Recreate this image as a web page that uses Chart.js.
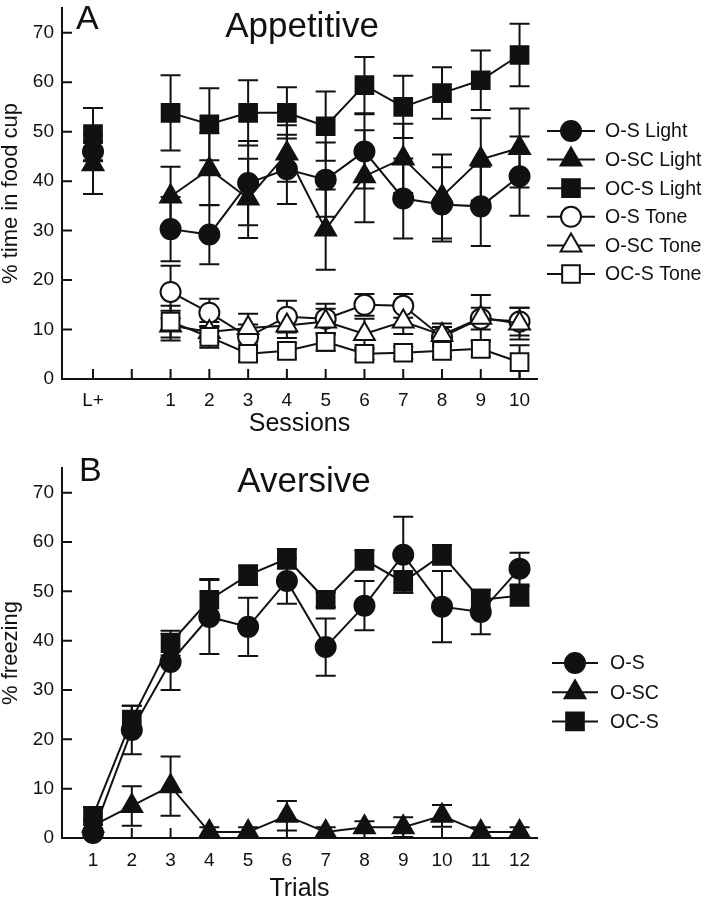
<!DOCTYPE html>
<html>
<head>
<meta charset="utf-8">
<script src="https://cdn.jsdelivr.net/npm/chart.js@4.4.0/dist/chart.umd.min.js"></script>
<style>
html,body{margin:0;padding:0;background:#fff;}
#wrap{width:709px;height:899px;position:relative;overflow:hidden;}
.box{position:absolute;left:0;width:709px;}
</style>
</head>
<body>
<div id="wrap">
  <div class="box" style="top:0;height:450px"><canvas id="cA"></canvas></div>
  <div class="box" style="top:450px;height:449px"><canvas id="cB"></canvas></div>
</div>
<script>
// ---------- Panel A: Appetitive ----------
const sessionCategories = ['L+', '', '1', '2', '3', '4', '5', '6', '7', '8', '9', '10'];
const yTicksA = [0, 10, 20, 30, 40, 50, 60, 70];

const osLight      = [46.0, null, 30.3, 29.2, 39.6, 42.4, 40.3, 46.0, 36.5, 35.3, 34.9, 41.0];
const osLightErr   = [2.0,  null, 6.5,  6.0,  8.5,  7.0,  7.5,  7.5,  8.1,  7.5,  8.0,  8.0];
const oscLight     = [43.4, null, 36.9, 42.4, 36.5, 45.6, 30.2, 41.0, 44.6, 36.9, 44.4, 46.7];
const oscLightErr  = [6.0,  null, 6.0,  7.3,  8.0,  5.7,  8.1,  9.3,  7.0,  8.5,  8.3,  8.0];
const ocsLight     = [49.5, null, 53.8, 51.5, 53.8, 53.8, 51.1, 59.4, 55.0, 57.8, 60.4, 65.5];
const ocsLightErr  = [5.3,  null, 7.6,  7.3,  6.6,  5.2,  7.0,  5.7,  6.3,  5.2,  6.0,  6.3];
const osTone       = [null, null, 17.6, 13.4, 8.5,  12.6, 12.2, 15.0, 14.8, 8.5,  12.2, 11.6];
const osToneErr    = [null, null, 5.3,  2.8,  2.5,  3.2,  3.0,  2.2,  2.4,  2.0,  2.2,  2.8];
const oscTone      = [null, null, 10.8, 9.5,  10.3, 10.8, 11.6, 9.1,  11.6, 8.9,  12.4, 11.2];
const oscToneErr   = [null, null, 3.0,  2.0,  2.9,  2.5,  2.6,  3.1,  2.5,  2.3,  4.6,  3.2];
const ocsTone      = [null, null, 11.6, 8.5,  5.1,  5.7,  7.5,  5.1,  5.3,  5.7,  6.1,  3.4];
const ocsToneErr   = [null, null, 3.2,  2.2,  1.5,  1.5,  1.8,  1.2,  1.2,  1.2,  1.5,  3.4];

// ---------- Panel B: Aversive ----------
const trials  = [1, 2, 3, 4, 5, 6, 7, 8, 9, 10, 11, 12];
const yTicksB = [0, 10, 20, 30, 40, 50, 60, 70];
const osFreeze     = [1.0, 21.9, 35.7, 44.8, 42.8, 52.1, 38.7, 47.1, 57.4, 46.9, 45.8, 54.6];
const osFreezeErr  = [1.0, 4.9,  5.7,  7.5,  5.9,  4.6,  5.8,  5.0,  7.7,  7.2,  4.5,  3.2];
const oscFreeze    = [2.5, 6.5,  10.5, 1.2,  1.2,  4.5,  1.2,  2.2,  2.2,  4.5,  1.2,  1.2];
const oscFreezeErr = [1.0, 4.0,  6.0,  1.0,  1.0,  3.0,  1.0,  1.2,  2.0,  2.2,  1.0,  1.0];
const ocsFreeze    = [4.5, 24.0, 39.5, 48.3, 53.3, 56.6, 48.3, 56.4, 51.9, 57.4, 48.3, 49.1];
const ocsFreezeErr = [1.8, 2.8,  2.5,  4.2,  2.0,  2.0,  1.5,  2.0,  2.2,  2.0,  2.0,  2.0];

// ---------- styling ----------
const FONT = '"Liberation Sans", Arial, Helvetica, sans-serif';
const INK = '#111';
const STYLE = {
  circle:   {pointStyle: 'circle',   pointRadius: 10},
  triangle: {pointStyle: 'triangle', pointRadius: 12},
  rect:     {pointStyle: 'rect',     pointRadius: 12.5}
};

function makeSet(label, xs, ys, errs, shape, filled, idx) {
  return Object.assign({
    label: label,
    data: ys.map((v, i) => ({x: xs[i], y: v})),
    errors: errs,
    order: 10 - idx,
    borderColor: INK,
    borderWidth: 2,
    pointBackgroundColor: filled ? INK : '#fff',
    pointBorderColor: INK,
    pointBorderWidth: 2,
    pointHoverRadius: STYLE[shape].pointRadius,
    tension: 0,
    spanGaps: false,
    clip: false,
    fill: false
  }, STYLE[shape]);
}

function drawMarker(ctx, style, x, y, r, fillC, strokeC, lw) {
  ctx.save();
  ctx.fillStyle = fillC; ctx.strokeStyle = strokeC; ctx.lineWidth = lw;
  ctx.beginPath();
  if (style === 'circle') {
    ctx.arc(x, y, r, 0, Math.PI * 2);
  } else if (style === 'triangle') {
    ctx.moveTo(x, y - r);
    ctx.lineTo(x + Math.sin(2 * Math.PI / 3) * r, y - Math.cos(2 * Math.PI / 3) * r);
    ctx.lineTo(x + Math.sin(4 * Math.PI / 3) * r, y - Math.cos(4 * Math.PI / 3) * r);
    ctx.closePath();
  } else {
    const s = Math.SQRT1_2 * r;
    ctx.rect(x - s, y - s, 2 * s, 2 * s);
  }
  ctx.fill(); ctx.stroke();
  ctx.restore();
}

const inwardTicks = {
  id: 'inwardTicks',
  beforeDatasetsDraw(chart, args, o) {
    const {ctx, chartArea} = chart;
    const xs = chart.scales.x, ys = chart.scales.y;
    ctx.save();
    ctx.strokeStyle = INK; ctx.lineWidth = o.width;
    ctx.beginPath();
    xs.ticks.forEach(t => {
      const px = xs.getPixelForValue(t.value);
      ctx.moveTo(px, chartArea.bottom); ctx.lineTo(px, chartArea.bottom - o.len);
    });
    ys.ticks.forEach(t => {
      const py = ys.getPixelForValue(t.value);
      ctx.moveTo(chartArea.left, py); ctx.lineTo(chartArea.left + o.len, py);
    });
    ctx.stroke();
    ctx.restore();
  }
};

const errorBars = {
  id: 'errorBars',
  beforeDatasetsDraw(chart, args, o) {
    const ctx = chart.ctx, xs = chart.scales.x, ys = chart.scales.y;
    ctx.save();
    ctx.strokeStyle = INK; ctx.lineWidth = o.width;
    chart.data.datasets.forEach(ds => {
      if (!ds.errors) return;
      ds.data.forEach((p, i) => {
        const e = ds.errors[i];
        if (p.y == null || e == null) return;
        const x = xs.getPixelForValue(p.x);
        const y1 = ys.getPixelForValue(p.y + e);
        const y2 = ys.getPixelForValue(Math.max(ys.min, p.y - e));
        ctx.beginPath();
        ctx.moveTo(x, y1); ctx.lineTo(x, y2);
        ctx.moveTo(x - o.cap, y1); ctx.lineTo(x + o.cap, y1);
        ctx.moveTo(x - o.cap, y2); ctx.lineTo(x + o.cap, y2);
        ctx.stroke();
      });
    });
    ctx.restore();
  }
};

const lineLegend = {
  id: 'lineLegend',
  afterDraw(chart, args, o) {
    const ctx = chart.ctx;
    chart.data.datasets.forEach((ds, i) => {
      const y = o.y0 + i * o.dy;
      ctx.save();
      ctx.strokeStyle = ds.borderColor; ctx.lineWidth = ds.borderWidth;
      ctx.beginPath(); ctx.moveTo(o.x1, y); ctx.lineTo(o.x2, y); ctx.stroke();
      ctx.restore();
      drawMarker(ctx, ds.pointStyle, o.mx, y, ds.pointRadius, ds.pointBackgroundColor, ds.pointBorderColor, ds.pointBorderWidth);
      ctx.save();
      ctx.fillStyle = INK; ctx.font = o.size + 'px ' + FONT;
      ctx.textBaseline = 'middle'; ctx.textAlign = 'left';
      ctx.fillText(ds.label, o.tx, y + 1);
      ctx.restore();
    });
  }
};

const panelText = {
  id: 'panelText',
  afterDraw(chart, args, o) {
    const ctx = chart.ctx;
    ctx.save();
    ctx.fillStyle = INK; ctx.textBaseline = 'alphabetic';
    ctx.font = o.letterSize + 'px ' + FONT; ctx.textAlign = 'left';
    ctx.fillText(o.letter, o.lx, o.ly);
    ctx.font = o.titleSize + 'px ' + FONT; ctx.textAlign = 'center';
    ctx.fillText(o.title, o.tx, o.ty);
    ctx.restore();
  }
};

function yScale(ticksArr, titleText) {
  return {
    type: 'linear', min: 0, max: 75,
    afterBuildTicks: s => { s.ticks = ticksArr.map(v => ({value: v})); },
    afterFit: s => { s.width = 62; s.paddingTop = 0; s.paddingBottom = 0; },
    grid: {display: false, drawTicks: false},
    border: {display: true, color: INK, width: 2},
    ticks: {padding: 8, color: INK, font: {size: 19, family: FONT}},
    title: {display: true, text: titleText, color: INK,
            font: {size: 22, family: FONT, lineHeight: 1}, padding: {top: 0, bottom: 0}}
  };
}

// ---------- Chart A ----------
const xPosA = sessionCategories.map((c, i) => i - 1);
new Chart(document.getElementById('cA'), {
  type: 'line',
  data: {
    datasets: [
      makeSet('O-S Light',  xPosA, osLight,  osLightErr,  'circle',   true,  0),
      makeSet('O-SC Light', xPosA, oscLight, oscLightErr, 'triangle', true,  1),
      makeSet('OC-S Light', xPosA, ocsLight, ocsLightErr, 'rect',     true,  2),
      makeSet('O-S Tone',   xPosA, osTone,   osToneErr,   'circle',   false, 3),
      makeSet('O-SC Tone',  xPosA, oscTone,  oscToneErr,  'triangle', false, 4),
      makeSet('OC-S Tone',  xPosA, ocsTone,  ocsToneErr,  'rect',     false, 5)
    ]
  },
  options: {
    responsive: true, maintainAspectRatio: false, animation: false,
    layout: {autoPadding: false, padding: {left: 0, top: 8, right: 172, bottom: 0}},
    plugins: {
      legend: {display: false}, tooltip: {enabled: false},
      inwardTicks: {len: 10, width: 2},
      errorBars: {cap: 10, width: 2},
      lineLegend: {x1: 547, x2: 595, mx: 571, tx: 605, y0: 131, dy: 28.6, size: 19.5},
      panelText: {letter: 'A', lx: 76, ly: 29, letterSize: 34, title: 'Appetitive', tx: 302, ty: 37, titleSize: 35}
    },
    scales: {
      x: {
        type: 'linear', min: -1.8, max: 10.45,
        afterBuildTicks: s => { s.ticks = xPosA.map(v => ({value: v})); },
        afterFit: s => { s.height = 71; s.paddingLeft = 0; s.paddingRight = 0; },
        grid: {display: false, drawTicks: false},
        border: {display: true, color: INK, width: 2},
        ticks: {padding: 10, color: INK, font: {size: 19, family: FONT}, autoSkip: false, maxRotation: 0,
                callback: v => sessionCategories[Math.round(v) + 1]},
        title: {display: true, text: 'Sessions', color: INK,
                font: {size: 25, family: FONT, lineHeight: 1}, padding: {top: 0, bottom: 13}}
      },
      y: yScale(yTicksA, '% time in food cup')
    }
  },
  plugins: [inwardTicks, errorBars, lineLegend, panelText]
});

// ---------- Chart B ----------
new Chart(document.getElementById('cB'), {
  type: 'line',
  data: {
    datasets: [
      makeSet('O-S',  trials, osFreeze,  osFreezeErr,  'circle',   true, 0),
      makeSet('O-SC', trials, oscFreeze, oscFreezeErr, 'triangle', true, 1),
      makeSet('OC-S', trials, ocsFreeze, ocsFreezeErr, 'rect',     true, 2)
    ]
  },
  options: {
    responsive: true, maintainAspectRatio: false, animation: false,
    layout: {autoPadding: false, padding: {left: 0, top: 18, right: 172, bottom: 0}},
    plugins: {
      legend: {display: false}, tooltip: {enabled: false},
      inwardTicks: {len: 10, width: 2},
      errorBars: {cap: 10, width: 2},
      lineLegend: {x1: 552, x2: 598, mx: 575, tx: 610, y0: 213, dy: 29.2, size: 19.5},
      panelText: {letter: 'B', lx: 79, ly: 31, letterSize: 34, title: 'Aversive', tx: 304, ty: 42, titleSize: 35}
    },
    scales: {
      x: {
        type: 'linear', min: 0.2, max: 12.45,
        afterBuildTicks: s => { s.ticks = trials.map(v => ({value: v})); },
        afterFit: s => { s.height = 61; s.paddingLeft = 0; s.paddingRight = 0; },
        grid: {display: false, drawTicks: false},
        border: {display: true, color: INK, width: 2},
        ticks: {padding: 11, color: INK, font: {size: 19, family: FONT}, autoSkip: false, maxRotation: 0,
                callback: v => String(v)},
        title: {display: true, text: 'Trials', color: INK,
                font: {size: 25, family: FONT, lineHeight: 0.8}, padding: {top: 0, bottom: 0}}
      },
      y: yScale(yTicksB, '% freezing')
    }
  },
  plugins: [inwardTicks, errorBars, lineLegend, panelText]
});
</script>
</body>
</html>
